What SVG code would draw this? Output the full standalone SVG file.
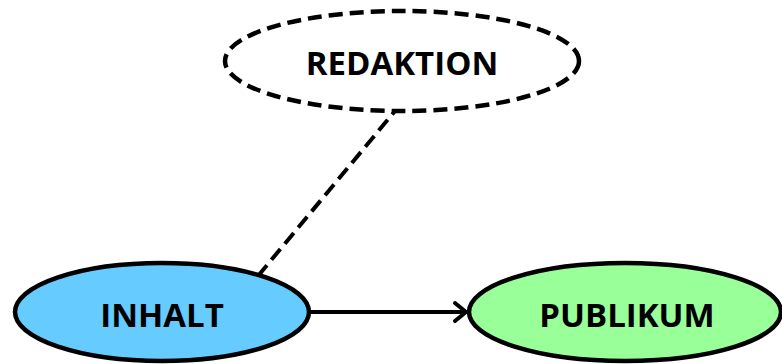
<svg xmlns="http://www.w3.org/2000/svg" width="782" height="364" viewBox="0 0 782 364">
<style>
.node{stroke:#000;stroke-width:4.5}
.lbl{font-family:"Open Sans","Liberation Sans",sans-serif;font-weight:700;font-size:33px;fill:#000;text-anchor:middle}
.dash{stroke-dasharray:14 7}
.edge{stroke:#000;stroke-width:4;fill:none}
</style>
<defs>
<marker id="arr" markerUnits="userSpaceOnUse" markerWidth="20" markerHeight="24" refX="16" refY="12" orient="auto">
<path d="M5,3 L16,12 L5,21" fill="none" stroke="#000" stroke-width="4" stroke-linecap="round" stroke-linejoin="round"/>
</marker>
</defs>
<g id="connectors">
<line class="edge dash" x1="258" y1="276" x2="395" y2="111"/>
<line class="edge" x1="310" y1="312" x2="466" y2="312" marker-end="url(#arr)"/>
</g>
<g id="redaktion">
<ellipse class="node dash" cx="402" cy="61" rx="177" ry="50" fill="#fff"/>
<text class="lbl" x="402" y="75">REDAKTION</text>
</g>
<g id="inhalt">
<ellipse class="node" cx="162" cy="312" rx="147" ry="49" fill="#66ccff"/>
<text class="lbl" x="162" y="327">INHALT</text>
</g>
<g id="publikum">
<ellipse class="node" cx="625" cy="312" rx="156" ry="49" fill="#99ff99"/>
<text class="lbl" x="627" y="327">PUBLIKUM</text>
</g>
</svg>
